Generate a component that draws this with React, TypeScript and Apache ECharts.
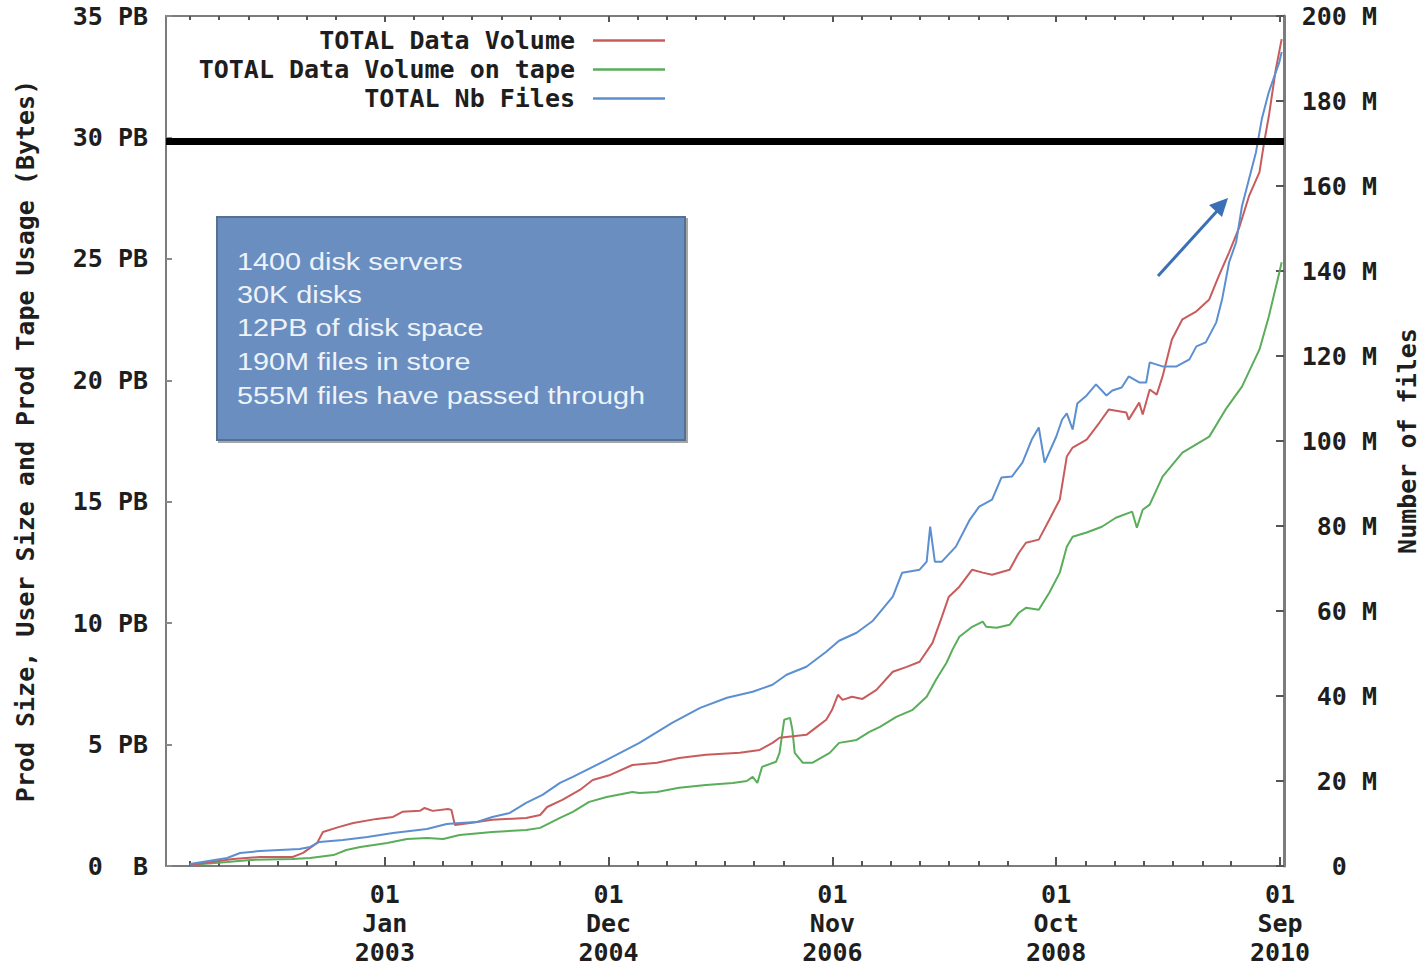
import React, { useEffect, useRef } from 'react';
import * as echarts from 'echarts';

// ---- data (time in fractional years) ----
const redT = [2001.33, 2001.70, 2001.93, 2002.21, 2002.30, 2002.42, 2002.47, 2002.61, 2002.73, 2002.93,
  2003.07, 2003.15, 2003.30, 2003.34, 2003.41, 2003.54, 2003.57, 2003.60, 2003.73, 2003.92,
  2004.21, 2004.33, 2004.39, 2004.52, 2004.67, 2004.78, 2004.93, 2005.12, 2005.33, 2005.52,
  2005.75, 2006.04, 2006.21, 2006.32, 2006.38, 2006.61, 2006.70, 2006.78, 2006.83, 2006.88,
  2006.92, 2007.00, 2007.09, 2007.21, 2007.35, 2007.47, 2007.58, 2007.69, 2007.77, 2007.83,
  2007.92, 2008.03, 2008.12, 2008.20, 2008.35, 2008.43, 2008.49, 2008.60, 2008.69, 2008.78,
  2008.84, 2008.89, 2009.01, 2009.12, 2009.20, 2009.35, 2009.37, 2009.46, 2009.49, 2009.55,
  2009.61, 2009.66, 2009.74, 2009.83, 2009.95, 2010.06, 2010.14, 2010.23, 2010.32, 2010.40,
  2010.49, 2010.53, 2010.57, 2010.63, 2010.68];
const redPB = [0.04, 0.29, 0.37, 0.37, 0.54, 0.95, 1.40, 1.61, 1.77, 1.94,
  2.02, 2.23, 2.27, 2.39, 2.27, 2.35, 2.31, 1.69, 1.77, 1.90,
  1.98, 2.10, 2.43, 2.72, 3.13, 3.54, 3.75, 4.16, 4.25, 4.45,
  4.58, 4.66, 4.78, 5.07, 5.28, 5.40, 5.73, 6.02, 6.43, 7.05,
  6.84, 6.97, 6.88, 7.25, 8.00, 8.20, 8.41, 9.19, 10.26, 11.09,
  11.50, 12.20, 12.08, 11.99, 12.20, 12.90, 13.31, 13.44, 14.26, 15.09,
  16.86, 17.23, 17.56, 18.26, 18.80, 18.67, 18.38, 19.08, 18.59, 19.62,
  19.41, 20.16, 21.68, 22.51, 22.84, 23.33, 24.28, 25.27, 26.34, 27.58,
  28.57, 29.80, 30.87, 32.81, 34.05];

const greenT = [2001.33, 2001.65, 2001.85, 2002.21, 2002.36, 2002.56, 2002.67, 2002.79, 2003.02, 2003.19,
  2003.36, 2003.50, 2003.64, 2003.92, 2004.21, 2004.33, 2004.50, 2004.61, 2004.75, 2004.90,
  2005.12, 2005.18, 2005.33, 2005.52, 2005.75, 2005.98, 2006.10, 2006.15, 2006.19, 2006.23,
  2006.35, 2006.38, 2006.42, 2006.47, 2006.49, 2006.51, 2006.58, 2006.66, 2006.81, 2006.89,
  2007.04, 2007.15, 2007.24, 2007.38, 2007.52, 2007.64, 2007.72, 2007.81, 2007.86, 2007.92,
  2008.03, 2008.12, 2008.15, 2008.24, 2008.35, 2008.43, 2008.49, 2008.60, 2008.69, 2008.78,
  2008.84, 2008.89, 2009.01, 2009.14, 2009.26, 2009.40, 2009.44, 2009.49, 2009.55, 2009.66,
  2009.83, 2010.06, 2010.20, 2010.34, 2010.49, 2010.57, 2010.66, 2010.68];
const greenPB = [0.04, 0.16, 0.25, 0.29, 0.33, 0.45, 0.66, 0.78, 0.95, 1.11,
  1.15, 1.11, 1.28, 1.40, 1.48, 1.57, 1.98, 2.23, 2.64, 2.84,
  3.05, 3.01, 3.05, 3.22, 3.34, 3.42, 3.50, 3.67, 3.42, 4.08,
  4.29, 4.66, 6.02, 6.10, 5.61, 4.66, 4.25, 4.25, 4.66, 5.07,
  5.19, 5.52, 5.73, 6.14, 6.43, 6.97, 7.67, 8.37, 8.90, 9.44,
  9.85, 10.06, 9.85, 9.81, 9.93, 10.43, 10.63, 10.55, 11.25, 12.08,
  13.15, 13.56, 13.73, 13.97, 14.34, 14.59, 13.93, 14.67, 14.88, 16.03,
  17.02, 17.68, 18.80, 19.74, 21.27, 22.63, 24.44, 24.86];

const blueT = [2001.33, 2001.65, 2001.76, 2001.93, 2002.27, 2002.36, 2002.44, 2002.64, 2002.85, 2003.07,
  2003.36, 2003.53, 2003.64, 2003.79, 2003.92, 2004.07, 2004.21, 2004.35, 2004.50, 2004.61,
  2004.90, 2005.18, 2005.46, 2005.70, 2005.93, 2006.15, 2006.32, 2006.44, 2006.61, 2006.78,
  2006.89, 2007.04, 2007.18, 2007.35, 2007.43, 2007.58, 2007.64, 2007.67, 2007.71, 2007.77,
  2007.89, 2008.01, 2008.09, 2008.20, 2008.28, 2008.37, 2008.46, 2008.54, 2008.60, 2008.65,
  2008.75, 2008.80, 2008.84, 2008.89, 2008.93, 2009.01, 2009.09, 2009.18, 2009.23, 2009.31,
  2009.37, 2009.46, 2009.52, 2009.55, 2009.66, 2009.78, 2009.89, 2009.95, 2010.03, 2010.12,
  2010.17, 2010.23, 2010.29, 2010.34, 2010.40, 2010.46, 2010.51, 2010.57, 2010.66, 2010.68];
const blueM = [0.47, 1.88, 3.06, 3.53, 4.00, 4.48, 5.65, 6.12, 6.83, 7.77,
  8.72, 9.89, 10.13, 10.37, 11.54, 12.49, 14.84, 16.73, 19.55, 20.97,
  24.97, 28.98, 33.69, 37.22, 39.58, 40.99, 42.64, 44.99, 46.88, 50.41,
  53.00, 54.89, 57.71, 63.37, 69.02, 69.73, 71.61, 79.86, 71.61, 71.61,
  75.15, 81.51, 84.57, 86.22, 91.40, 91.64, 94.93, 100.35, 103.18, 94.93,
  101.06, 105.06, 106.48, 102.71, 108.83, 110.72, 113.31, 110.72, 111.90, 112.60,
  115.19, 113.78, 113.78, 118.49, 117.55, 117.55, 119.20, 122.26, 123.20, 127.92,
  133.33, 142.05, 146.76, 155.24, 161.60, 167.96, 175.74, 182.10, 189.16, 191.52];

const xMinYear = 2001.126;
const xMaxYear = 2010.7;
const majorTickDates = ['2003-01-01', '2004-12-01', '2006-11-01', '2008-10-01', '2010-09-01'];
const minorTickDates = [
  '2001-05-01', '2001-08-01', '2001-11-01', '2002-02-01', '2002-05-01', '2002-08-01',
  '2003-04-01', '2003-07-01', '2003-10-01', '2004-01-01', '2004-04-01', '2004-07-01',
  '2005-03-01', '2005-06-01', '2005-09-01', '2005-12-01', '2006-03-01', '2006-06-01',
  '2007-02-01', '2007-05-01', '2007-08-01', '2007-11-01', '2008-02-01', '2008-05-01',
  '2009-01-01', '2009-04-01', '2009-07-01', '2009-10-01', '2010-01-01', '2010-04-01'];
const monthNames = ['Jan', 'Feb', 'Mar', 'Apr', 'May', 'Jun', 'Jul', 'Aug', 'Sep', 'Oct', 'Nov', 'Dec'];

const volumeMax = 35;
const volumeStep = 5;
const filesMax = 200;
const filesStep = 20;
const capacityLinePB = 29.83;

const seriesNames = ['TOTAL Data Volume', 'TOTAL Data Volume on tape', 'TOTAL Nb Files'];
const leftAxisName = 'Prod Size, User Size and Prod Tape Usage (Bytes)';
const rightAxisName = 'Number of files';
const noteLines = ['1400 disk servers', '30K disks', '12PB of disk space', '190M files in store', '555M files have passed through'];

// ---- helpers ----
function yearFrac(s: string): number {
  const [y, m, d] = s.split('-').map(Number);
  const start = Date.UTC(y, 0, 1);
  const end = Date.UTC(y + 1, 0, 1);
  return y + (Date.UTC(y, m - 1, d) - start) / (end - start);
}
function zip(a: number[], b: number[]): number[][] {
  return a.map((t, i) => [t, b[i]]);
}

const MONO = '"DejaVu Sans Mono", monospace';
const FS = 25;
const CHAR_W = FS * 0.602;
const TEXT_COLOR = '#1e1e1e';
const AXIS_COLOR = '#7c7c7c';
const TICK_COLOR = '#555555';

export default function App() {
  const ref = useRef<HTMLDivElement>(null);

  useEffect(() => {
    if (!ref.current) return;
    const chart = echarts.init(ref.current, undefined, { renderer: 'svg' });
    const majorVals = majorTickDates.map(yearFrac);
    const minorVals = minorTickDates.map(yearFrac);

    const monoText = { fontFamily: MONO, fontWeight: 'bold' as const, fontSize: FS, color: TEXT_COLOR };

    const xBase = {
      type: 'value' as const,
      min: xMinYear,
      max: xMaxYear,
      splitLine: { show: false },
    };

    const xLabelFormatter = (v: number) => {
      let best = 0;
      majorVals.forEach((mv, i) => {
        if (Math.abs(mv - v) < Math.abs(majorVals[best] - v)) best = i;
      });
      const [y, m, d] = majorTickDates[best].split('-');
      return `${d}\n${monthNames[Number(m) - 1]}\n${y}`;
    };

    const noteY = [262, 295, 328, 362, 396];

    const option: any = {
      animation: false,
      backgroundColor: '#ffffff',
      grid: { left: 166, top: 16, right: 143, bottom: 101, containLabel: false },
      legend: {
        data: seriesNames,
        orient: 'vertical',
        align: 'right',
        right: 763,
        top: 26,
        padding: 0,
        itemGap: 0,
        itemWidth: 72,
        itemHeight: 2.5,
        icon: 'rect',
        selectedMode: false,
        textStyle: { ...monoText, lineHeight: 29, padding: [0, 13, 0, 0] },
      },
      xAxis: [
        {
          ...xBase,
          position: 'bottom',
          axisLine: { show: true, lineStyle: { color: AXIS_COLOR, width: 2 } },
          axisTick: { show: true, inside: true, length: 9, customValues: majorVals, lineStyle: { color: TICK_COLOR, width: 2 } },
          axisLabel: { show: true, customValues: majorVals, formatter: xLabelFormatter, ...monoText, lineHeight: 29, margin: 14 },
        },
        {
          ...xBase,
          position: 'bottom',
          axisLine: { show: false },
          axisTick: { show: true, inside: true, length: 5, customValues: minorVals, lineStyle: { color: TICK_COLOR, width: 2 } },
          axisLabel: { show: false },
        },
        {
          ...xBase,
          position: 'top',
          axisLine: { show: true, lineStyle: { color: AXIS_COLOR, width: 2 } },
          axisTick: { show: true, inside: true, length: 6, customValues: majorVals, lineStyle: { color: TICK_COLOR, width: 2 } },
          axisLabel: { show: false },
        },
        {
          ...xBase,
          position: 'top',
          axisLine: { show: false },
          axisTick: { show: true, inside: true, length: 4, customValues: minorVals, lineStyle: { color: TICK_COLOR, width: 2 } },
          axisLabel: { show: false },
        },
      ],
      yAxis: [
        {
          type: 'value',
          position: 'left',
          min: 0,
          max: volumeMax,
          interval: volumeStep,
          name: leftAxisName,
          nameLocation: 'middle',
          nameRotate: 90,
          nameGap: 128,
          nameTextStyle: { ...monoText },
          splitLine: { show: false },
          axisLine: { show: true, lineStyle: { color: AXIS_COLOR, width: 2 } },
          axisTick: { show: true, inside: true, length: 6, lineStyle: { color: '#8a8a8a', width: 2 } },
          axisLabel: {
            ...monoText,
            margin: 18,
            formatter: (v: number) => (v === 0 ? '{n|0}{u|B}' : `${v} PB`),
            rich: {
              n: { ...monoText, padding: [0, CHAR_W * 2, 0, 0] },
              u: { ...monoText },
            },
          },
        },
        {
          type: 'value',
          position: 'right',
          min: 0,
          max: filesMax,
          interval: filesStep,
          name: rightAxisName,
          nameLocation: 'middle',
          nameRotate: 90,
          nameGap: 111,
          nameTextStyle: { ...monoText },
          splitLine: { show: false },
          axisLine: { show: true, lineStyle: { color: AXIS_COLOR, width: 3 } },
          axisTick: { show: true, inside: true, length: 8, lineStyle: { color: TICK_COLOR, width: 2 } },
          axisLabel: {
            ...monoText,
            align: 'right',
            margin: 93,
            formatter: (v: number) => (v === 0 ? '{z|0}' : `${v} M`),
            rich: {
              z: { ...monoText, padding: [0, CHAR_W * 2, 0, 0] },
            },
          },
        },
      ],
      series: [
        {
          name: seriesNames[0],
          type: 'line',
          xAxisIndex: 0,
          yAxisIndex: 0,
          data: zip(redT, redPB),
          symbol: 'none',
          showSymbol: false,
          color: '#c85c5c',
          lineStyle: { width: 2, color: '#c85c5c' },
          z: 3,
          markLine: {
            silent: true,
            symbol: ['none', 'none'],
            label: { show: false },
            lineStyle: { color: '#000000', width: 7, type: 'solid' },
            emphasis: { disabled: true },
            data: [{ yAxis: capacityLinePB }],
            z: 6,
          },
        },
        {
          name: seriesNames[1],
          type: 'line',
          xAxisIndex: 0,
          yAxisIndex: 0,
          data: zip(greenT, greenPB),
          symbol: 'none',
          showSymbol: false,
          color: '#5aad5a',
          lineStyle: { width: 2, color: '#5aad5a' },
          z: 2,
        },
        {
          name: seriesNames[2],
          type: 'line',
          xAxisIndex: 0,
          yAxisIndex: 1,
          data: zip(blueT, blueM),
          symbol: 'none',
          showSymbol: false,
          color: '#5b8fd2',
          lineStyle: { width: 2, color: '#5b8fd2' },
          z: 3,
        },
      ],
      graphic: [
        {
          type: 'rect',
          shape: { x: 217, y: 217, width: 468, height: 223 },
          style: {
            fill: '#6a8ebf',
            stroke: '#56708f',
            lineWidth: 2,
            shadowColor: 'rgba(0,0,0,0.35)',
            shadowOffsetX: 2,
            shadowOffsetY: 2,
            shadowBlur: 1,
          },
          z: 20,
        },
        ...noteLines.map((t, i) => ({
          type: 'text',
          x: 237,
          y: noteY[i],
          scaleX: 1.2,
          z: 21,
          style: {
            text: t,
            fill: '#eef3fa',
            fontFamily: '"Liberation Sans", Arial, sans-serif',
            fontSize: 24,
            verticalAlign: 'middle',
            align: 'left',
          },
        })),
        {
          type: 'line',
          shape: { x1: 1158, y1: 276, x2: 1218, y2: 210 },
          style: { stroke: '#3b6fb6', lineWidth: 3 },
          z: 20,
        },
        {
          type: 'polygon',
          shape: { points: [[1228, 198], [1222, 217], [1209, 205]] },
          style: { fill: '#3b6fb6' },
          z: 20,
        },
      ],
    };

    chart.setOption(option);
    return () => chart.dispose();
  }, []);

  return (
    <div
      ref={ref}
      style={{ position: 'fixed', left: 0, top: 0, width: 1428, height: 967, overflow: 'hidden', background: '#ffffff' }}
    />
  );
}
